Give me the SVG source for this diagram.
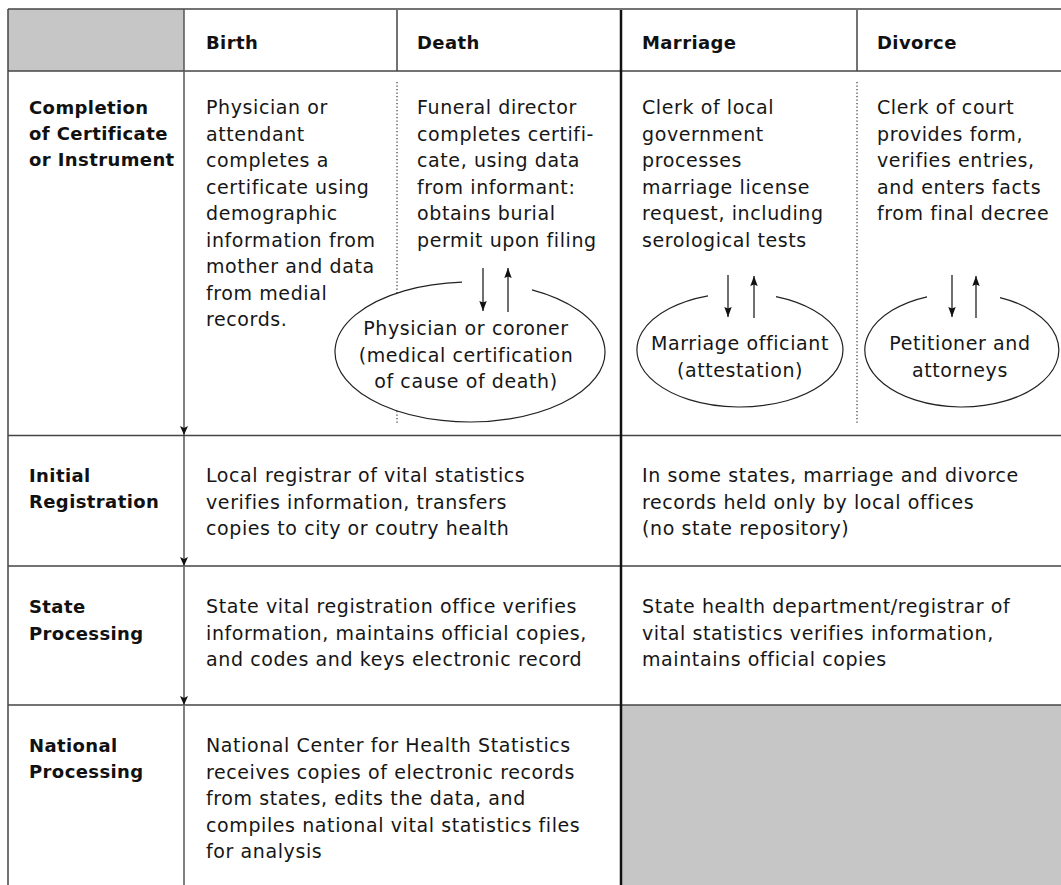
<svg xmlns="http://www.w3.org/2000/svg" width="1061" height="885" viewBox="0 0 1061 885">
  <defs>
    <style>
      .t { font-family: "DejaVu Sans", "Liberation Sans", sans-serif; font-size: 19px; letter-spacing: 0.6px; fill: #161616; }
      .b { font-family: "DejaVu Sans", "Liberation Sans", sans-serif; font-size: 18px; font-weight: bold; letter-spacing: 0.4px; fill: #111; }
      .c { text-anchor: middle; }
      .grid { stroke: #444; stroke-width: 1.5; fill: none; }
      .thick { stroke: #111; stroke-width: 2.5; fill: none; }
      .dot { stroke: #333; stroke-width: 1.2; stroke-dasharray: 1.2 2.3; fill: none; }
      .flow { stroke: #555; stroke-width: 1.5; fill: none; }
      .arr { stroke: #222; stroke-width: 1.3; fill: none; }
      .oval { stroke: #222; stroke-width: 1.2; fill: none; }
      .shade { fill: #c6c6c6; }
    </style>
    <!-- arrowheads drawn pointing along +x, rotated to the line direction -->
    <marker id="headSmall" markerUnits="userSpaceOnUse" markerWidth="10" markerHeight="9" refX="9" refY="4.5" orient="auto" viewBox="0 0 10 9">
      <path d="M0,0.5 L9,4.5 L0,8.5 L2,4.5 z" fill="#111"/>
    </marker>
    <marker id="head" markerUnits="userSpaceOnUse" markerWidth="11" markerHeight="8" refX="10" refY="4" orient="auto" viewBox="0 0 11 8">
      <path d="M0,0.3 L10,4 L0,7.7 L1.6,4 z" fill="#111"/>
    </marker>
  </defs>

  <rect width="1061" height="885" fill="#fff"/>

  <!-- shaded cells -->
  <rect class="shade" x="8" y="9" width="176" height="62"/>
  <rect class="shade" x="622" y="705" width="439" height="180"/>

  <!-- table rules -->
  <g id="grid">
    <line class="grid" x1="8" y1="9" x2="1061" y2="9"/>
    <line class="grid" x1="8" y1="71" x2="1061" y2="71"/>
    <line class="grid" x1="8" y1="435.5" x2="1061" y2="435.5"/>
    <line class="grid" x1="8" y1="566" x2="1061" y2="566"/>
    <line class="grid" x1="8" y1="705" x2="1061" y2="705"/>
    <line class="grid" x1="8" y1="9" x2="8" y2="885"/>
    <line class="grid" x1="397" y1="10" x2="397" y2="71"/>
    <line class="grid" x1="857" y1="10" x2="857" y2="71"/>
    <line class="thick" x1="621" y1="10" x2="621" y2="885"/>
    <line class="dot" x1="397" y1="82" x2="397" y2="425"/>
    <line class="dot" x1="857" y1="82" x2="857" y2="425"/>
  </g>

  <!-- column headings -->
  <g id="headings">
    <text class="b" x="206" y="49">Birth</text>
    <text class="b" x="417" y="49">Death</text>
    <text class="b" x="642" y="49">Marriage</text>
    <text class="b" x="877" y="49">Divorce</text>
  </g>

  <!-- process stages -->
  <g id="stage-completion">
    <text class="b" x="29" y="114">Completion</text>
    <text class="b" x="29" y="140">of Certificate</text>
    <text class="b" x="29" y="166">or Instrument</text>
  </g>
  <g id="stage-initial">
    <text class="b" x="29" y="482">Initial</text>
    <text class="b" x="29" y="508">Registration</text>
  </g>
  <g id="stage-state">
    <text class="b" x="29" y="613">State</text>
    <text class="b" x="29" y="640">Processing</text>
  </g>
  <g id="stage-national">
    <text class="b" x="29" y="752">National</text>
    <text class="b" x="29" y="778">Processing</text>
  </g>

  <!-- completion step per record type -->
  <g id="birth-completion">
    <text class="t" x="206" y="114">Physician or</text>
    <text class="t" x="206" y="140.5">attendant</text>
    <text class="t" x="206" y="167">completes a</text>
    <text class="t" x="206" y="193.5">certificate using</text>
    <text class="t" x="206" y="220">demographic</text>
    <text class="t" x="206" y="246.5">information from</text>
    <text class="t" x="206" y="273">mother and data</text>
    <text class="t" x="206" y="299.5">from medial</text>
    <text class="t" x="206" y="326">records.</text>
  </g>
  <g id="death-completion">
    <text class="t" x="417" y="114">Funeral director</text>
    <text class="t" x="417" y="140.5">completes certifi-</text>
    <text class="t" x="417" y="167">cate, using data</text>
    <text class="t" x="417" y="193.5">from informant:</text>
    <text class="t" x="417" y="220">obtains burial</text>
    <text class="t" x="417" y="246.5">permit upon filing</text>
  </g>
  <g id="marriage-completion">
    <text class="t" x="642" y="114">Clerk of local</text>
    <text class="t" x="642" y="140.5">government</text>
    <text class="t" x="642" y="167">processes</text>
    <text class="t" x="642" y="193.5">marriage license</text>
    <text class="t" x="642" y="220">request, including</text>
    <text class="t" x="642" y="246.5">serological tests</text>
  </g>
  <g id="divorce-completion">
    <text class="t" x="877" y="114">Clerk of court</text>
    <text class="t" x="877" y="140.5">provides form,</text>
    <text class="t" x="877" y="167">verifies entries,</text>
    <text class="t" x="877" y="193.5">and enters facts</text>
    <text class="t" x="877" y="220">from final decree</text>
  </g>

  <!-- certifying parties -->
  <g id="physician-coroner">
    <ellipse cx="470" cy="352" rx="135" ry="70" fill="#fff"/>
    <path class="oval" d="M462,282.1 A135,70 0 1 0 532,289.8"/>
    <text class="t c" x="466" y="335">Physician or coroner</text>
    <text class="t c" x="466" y="361.5">(medical certification</text>
    <text class="t c" x="466" y="388">of cause of death)</text>
  </g>
  <g id="marriage-officiant">
    <ellipse cx="740" cy="350" rx="103" ry="57" fill="#fff"/>
    <path class="oval" d="M708,295.8 A103,57 0 1 0 776,296.6"/>
    <text class="t c" x="740" y="350">Marriage officiant</text>
    <text class="t c" x="740" y="377">(attestation)</text>
  </g>
  <g id="petitioner-attorneys">
    <ellipse cx="962" cy="350" rx="97" ry="57" fill="#fff"/>
    <path class="oval" d="M927,296.8 A97,57 0 1 0 1000,297.6"/>
    <text class="t c" x="960" y="350">Petitioner and</text>
    <text class="t c" x="960" y="377">attorneys</text>
  </g>

  <!-- later stages -->
  <g id="birth-death-initial">
    <text class="t" x="206" y="482">Local registrar of vital statistics</text>
    <text class="t" x="206" y="508.5">verifies information, transfers</text>
    <text class="t" x="206" y="535">copies to city or coutry health</text>
  </g>
  <g id="marriage-divorce-initial">
    <text class="t" x="642" y="482">In some states, marriage and divorce</text>
    <text class="t" x="642" y="508.5">records held only by local offices</text>
    <text class="t" x="642" y="535">(no state repository)</text>
  </g>
  <g id="birth-death-state">
    <text class="t" x="206" y="613">State vital registration office verifies</text>
    <text class="t" x="206" y="639.5">information, maintains official copies,</text>
    <text class="t" x="206" y="666">and codes and keys electronic record</text>
  </g>
  <g id="marriage-divorce-state">
    <text class="t" x="642" y="613">State health department/registrar of</text>
    <text class="t" x="642" y="639.5">vital statistics verifies information,</text>
    <text class="t" x="642" y="666">maintains official copies</text>
  </g>
  <g id="birth-death-national">
    <text class="t" x="206" y="752">National Center for Health Statistics</text>
    <text class="t" x="206" y="778.5">receives copies of electronic records</text>
    <text class="t" x="206" y="805">from states, edits the data, and</text>
    <text class="t" x="206" y="831.5">compiles national vital statistics files</text>
    <text class="t" x="206" y="858">for analysis</text>
  </g>

  <!-- connectors -->
  <g id="connectors">
    <line class="flow" x1="184" y1="9" x2="184" y2="435" marker-end="url(#headSmall)"/>
    <line class="flow" x1="184" y1="436" x2="184" y2="566" marker-end="url(#headSmall)"/>
    <line class="flow" x1="184" y1="567" x2="184" y2="705" marker-end="url(#headSmall)"/>
    <line class="flow" x1="184" y1="706" x2="184" y2="885"/>
    <line class="arr" x1="483" y1="268" x2="483" y2="311" marker-end="url(#head)"/>
    <line class="arr" x1="508" y1="312" x2="508" y2="268" marker-end="url(#head)"/>
    <line class="arr" x1="728" y1="275" x2="728" y2="317" marker-end="url(#head)"/>
    <line class="arr" x1="754" y1="318" x2="754" y2="276" marker-end="url(#head)"/>
    <line class="arr" x1="952" y1="275" x2="952" y2="317" marker-end="url(#head)"/>
    <line class="arr" x1="976" y1="318" x2="976" y2="276" marker-end="url(#head)"/>
  </g>
</svg>
